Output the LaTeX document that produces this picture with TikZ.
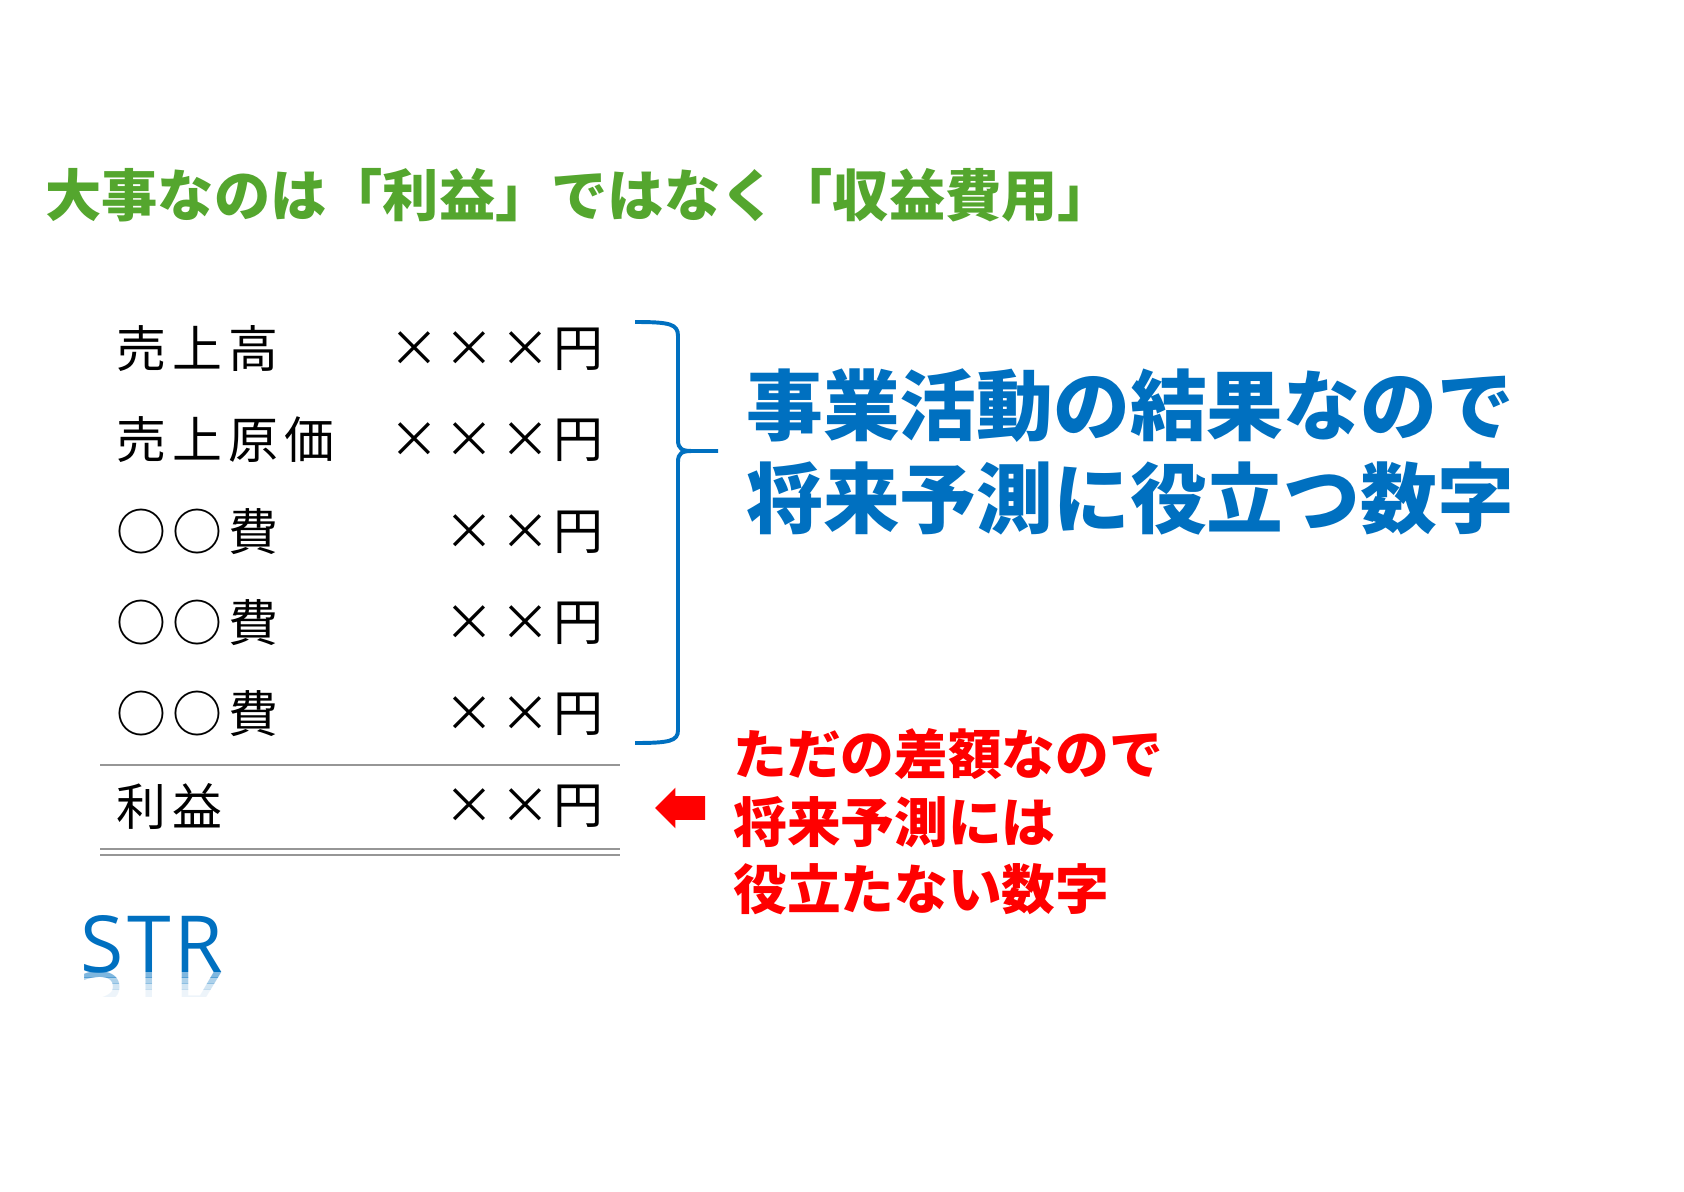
\documentclass[tikz,border=0pt]{standalone}
\usepackage{fontspec}
\usetikzlibrary{positioning,shapes.arrows}
\newfontfamily\jpfont{Noto Sans CJK JP}
\newfontfamily\jprow[LetterSpace=12]{Noto Sans CJK JP}
\newfontfamily\logofont[LetterSpace=5]{Open Sans}
\definecolor{titlegreen}{RGB}{84,166,46}
\definecolor{noteblue}{RGB}{0,112,192}
\definecolor{rulegray}{RGB}{150,150,150}
\newcommand{\xm}{\makebox[1.12em]{×}}

\begin{document}
\begin{tikzpicture}[x=0.025cm, y=-0.025cm]
\tikzset{
  item/.style={anchor=west, inner sep=0pt, font=\jprow\fontsize{35.5pt}{40pt}\selectfont},
  amount/.style={anchor=east, inner sep=0pt, font=\jpfont\fontsize{35.5pt}{40pt}\selectfont},
  headline/.style={anchor=west, inner sep=0pt, text=titlegreen, font=\jpfont\bfseries\fontsize{40pt}{44pt}\selectfont},
  bluenote/.style={anchor=west, inner sep=0pt, text=noteblue, font=\jpfont\bfseries\fontsize{54.6pt}{60pt}\selectfont},
  rednote/.style={anchor=west, inner sep=0pt, text=red, font=\jpfont\bfseries\fontsize{38.2pt}{44pt}\selectfont},
  logotext/.style={anchor=base west, inner sep=0pt, text=noteblue, font=\logofont\fontsize{56pt}{60pt}\selectfont},
  rule/.style={draw=rulegray, line width=1.6pt}
}
\fill[white] (0,0) rectangle (1684,1191);
\useasboundingbox (0,0) rectangle (1684,1191);

% title
\node[headline] (title) at (45,195) {大事なのは「利益」ではなく「収益費用」};

% statement rows
\node[item] (sales) at (116,349) {売上高};
\node[amount] (salesamt) at (604,349) {\xm\xm\xm 円};
\node[item] (cogs) at (116,440) {売上原価};
\node[amount] (cogsamt) at (604,440) {\xm\xm\xm 円};
\node[item] (costa) at (116,532) {○○費};
\node[amount] (costaamt) at (604,532) {\xm\xm 円};
\node[item] (costb) at (116,623) {○○費};
\node[amount] (costbamt) at (604,623) {\xm\xm 円};
\node[item] (costc) at (116,714) {○○費};
\node[amount] (costcamt) at (604,714) {\xm\xm 円};
\node[item] (profit) at (116,806) {利益};
\node[amount] (profitamt) at (604,806) {\xm\xm 円};

% rules
\draw[rule] (100,765) -- (620,765);
\draw[rule, line width=1.3pt] (100,849) -- (620,849);
\draw[rule, line width=1.3pt] (100,855) -- (620,855);

% brace
\draw[noteblue, line width=2.8pt] (635,322) .. controls (670,322) and (678,324) .. (678,336)
  -- (678,440) .. controls (678,449) and (682,451) .. (692,451) -- (718,451);
\draw[noteblue, line width=2.8pt] (692,451) .. controls (682,451) and (678,453) .. (678,462)
  -- (678,730) .. controls (678,741) and (670,743) .. (635,743);

\node[bluenote] (blue1) at (746,406) {事業活動の結果なので};
\node[bluenote] (blue2) at (746,498) {将来予測に役立つ数字};

% arrow + note
\node[single arrow, fill=red, draw=none, shape border rotate=180, inner xsep=0pt, inner ysep=0.29cm,
  minimum height=1.25cm, single arrow head extend=0.21cm] (mark) at (686,808) {};
\node[rednote] (red1) at (733,754) {ただの差額なので};
\node[rednote] (red2) at (733,822) {将来予測には};
\node[rednote] (red3) at (733,889) {役立たない数字};

% logo with reflection
\node[logotext] (logo) at (80,972) {STR};
\begin{scope}
  \clip (60,972) rectangle (260,977);
  \node[logotext, yscale=-1, opacity=0.5] at (80,972) {STR};
\end{scope}
\begin{scope}
  \clip (60,977) rectangle (260,983);
  \node[logotext, yscale=-1, opacity=0.32] at (80,972) {STR};
\end{scope}
\begin{scope}
  \clip (60,983) rectangle (260,989);
  \node[logotext, yscale=-1, opacity=0.18] at (80,972) {STR};
\end{scope}
\begin{scope}
  \clip (60,989) rectangle (260,996);
  \node[logotext, yscale=-1, opacity=0.07] at (80,972) {STR};
\end{scope}
\end{tikzpicture}
\end{document}
